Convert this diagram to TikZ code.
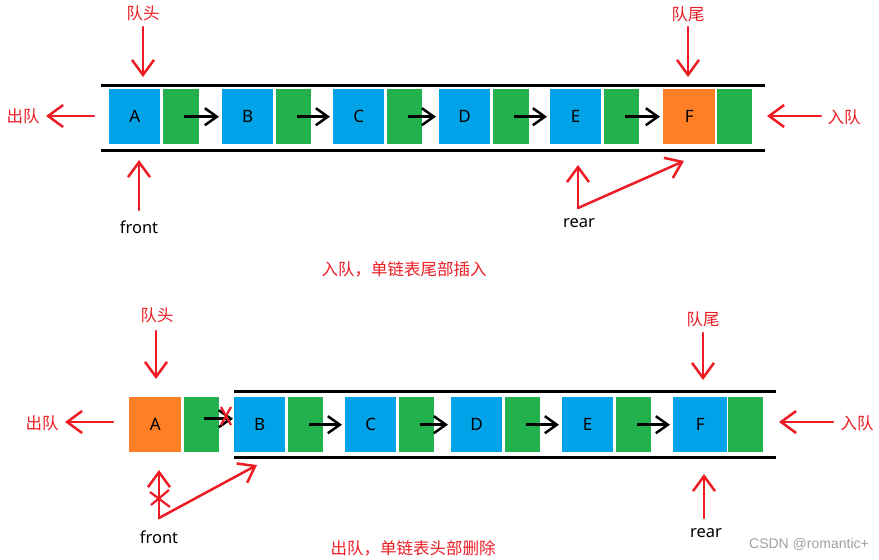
\documentclass[tikz,border=0pt]{standalone}
\usepackage{fontspec}
\setmainfont{Noto Sans}
\newfontfamily\cjk{Noto Sans CJK SC}
\newfontfamily\wmfont{Liberation Sans}
\usetikzlibrary{arrows.meta}
\definecolor{qblue}{HTML}{00A2E8}
\definecolor{qgreen}{HTML}{22B14C}
\definecolor{qorange}{HTML}{FF7F27}
\definecolor{qred}{HTML}{ED1C24}
\definecolor{qgray}{HTML}{A0A0A0}
\begin{document}
\begin{tikzpicture}[x=1pt,y=-1pt,
  cell/.style={inner sep=0pt, anchor=north west, minimum height=55pt, font=\fontsize{17pt}{19pt}\selectfont},
  databox/.style={cell, fill=qblue, minimum width=51pt},
  nextbox/.style={cell, fill=qgreen, minimum width=35pt},
  hl/.style={fill=qorange},
  rail/.style={line width=3pt},
  ptr/.style={line width=2.5pt, -{Straight Barb[length=12pt,width=17pt]}},
  redarr/.style={draw=qred, line width=2.5pt, line cap=round, -{Straight Barb[length=15pt,width=22pt]}},
  strike/.style={draw=qred, line width=2.2pt},
  rlabel/.style={text=qred, font=\cjk\fontsize{16.5pt}{18pt}\selectfont, inner sep=1pt},
  blabel/.style={font=\fontsize{16.5pt}{18pt}\selectfont, inner sep=1pt},
]
\useasboundingbox (0,0) rectangle (879,560);

% ================= top: enqueue =================
\draw[rail] (101,85) -- (765,85);
\draw[rail] (101,150) -- (765,150);

\node[databox] (A1) at (109,89) {A};
\node[nextbox, minimum width=36pt] (A1g) at (163,89) {};
\node[databox] (B1) at (222,89) {B};
\node[nextbox] (B1g) at (276,89) {};
\node[databox] (C1) at (333,89) {C};
\node[nextbox] (C1g) at (387,89) {};
\node[databox] (D1) at (439,89) {D};
\node[nextbox, minimum width=36pt] (D1g) at (493,89) {};
\node[databox] (E1) at (550,89) {E};
\node[nextbox] (E1g) at (604,89) {};
\node[databox, hl, minimum width=52pt] (F1) at (663,89) {F};
\node[nextbox] (F1g) at (717,89) {};

\draw[ptr] ([xshift=3pt]A1g.center) -- ([xshift=-3pt]B1.west);
\draw[ptr] ([xshift=3pt]B1g.center) -- ([xshift=-3pt]C1.west);
\draw[ptr] ([xshift=3pt]C1g.center) -- ([xshift=-3pt]D1.west);
\draw[ptr] ([xshift=3pt]D1g.center) -- ([xshift=-3pt]E1.west);
\draw[ptr] ([xshift=3pt]E1g.center) -- ([xshift=-3pt]F1.west);

\node[rlabel] (head1) at (143,13) {队头};
\coordinate (head1s) at (143,27);
\coordinate (head1e) at (143,77);
\draw[redarr] (head1s) -- (head1e);

\node[rlabel] (tail1) at (688,14) {队尾};
\coordinate (tail1s) at (688,27);
\coordinate (tail1e) at (688,77);
\draw[redarr] (tail1s) -- (tail1e);

\node[rlabel] (deq1) at (23,116) {出队};
\coordinate (deq1s) at (94,116);
\coordinate (deq1e) at (46,116);
\draw[redarr] (deq1s) -- (deq1e);

\node[rlabel] (enq1) at (844,117) {入队};
\coordinate (enq1s) at (821,116);
\coordinate (enq1e) at (767,116);
\draw[redarr] (enq1s) -- (enq1e);

\node[blabel] (front1) at (139,227) {front};
\coordinate (front1s) at (139,210);
\coordinate (front1e) at (139,160);
\draw[redarr] (front1s) -- (front1e);

\node[blabel] (rear1) at (579,223) {rear};
\coordinate (rear1s) at (578,208);
\coordinate (rear1e) at (578,165);
\coordinate (rear1f) at (684,161);
\draw[redarr] (rear1s) -- (rear1e);
\draw[redarr] (rear1s) -- (rear1f);

\node[rlabel] (cap1) at (404,269) {入队，单链表尾部插入};

% ================= bottom: dequeue =================
\draw[rail] (234,391) -- (776,391);
\draw[rail] (234,457) -- (776,457);

\node[databox, hl, minimum width=52pt] (A2) at (129,397) {A};
\node[nextbox] (A2g) at (184,397) {};
\node[databox] (B2) at (234,397) {B};
\node[nextbox] (B2g) at (288,397) {};
\node[databox] (C2) at (345,397) {C};
\node[nextbox] (C2g) at (399,397) {};
\node[databox] (D2) at (451,397) {D};
\node[nextbox] (D2g) at (505,397) {};
\node[databox] (E2) at (562,397) {E};
\node[nextbox] (E2g) at (616,397) {};
\node[databox, minimum width=54pt] (F2) at (673,397) {F};
\node[nextbox] (F2g) at (728,397) {};

\draw[ptr] ([xshift=2.5pt,yshift=6pt]A2g.center) -- ([xshift=-1pt,yshift=6pt]B2.west);
\draw[ptr] ([xshift=3.5pt]B2g.center) -- ([xshift=-3pt]C2.west);
\draw[ptr] ([xshift=3.5pt]C2g.center) -- ([xshift=-3pt]D2.west);
\draw[ptr] ([xshift=3.5pt]D2g.center) -- ([xshift=-3pt]E2.west);
\draw[ptr] ([xshift=3.5pt]E2g.center) -- ([xshift=-3pt]F2.west);
% cut link
\draw[strike] (221,407) -- (231,425);
\draw[strike] (231,407) -- (221,425);

\node[rlabel] (head2) at (157,315) {队头};
\coordinate (head2s) at (156,331);
\coordinate (head2e) at (156,379);
\draw[redarr] (head2s) -- (head2e);

\node[rlabel] (tail2) at (703,319) {队尾};
\coordinate (tail2s) at (703,333);
\coordinate (tail2e) at (703,380);
\draw[redarr] (tail2s) -- (tail2e);

\node[rlabel] (deq2) at (42,423) {出队};
\coordinate (deq2s) at (113,422);
\coordinate (deq2e) at (65,422);
\draw[redarr] (deq2s) -- (deq2e);

\node[rlabel] (enq2) at (857,423) {入队};
\coordinate (enq2s) at (833,422);
\coordinate (enq2e) at (779,422);
\draw[redarr] (enq2s) -- (enq2e);

\node[blabel] (front2) at (159,537) {front};
\coordinate (front2s) at (159,518);
\coordinate (front2e) at (159,470);
\coordinate (front2f) at (257,465);
\draw[redarr] (front2s) -- (front2e);
\draw[redarr] (front2s) -- (front2f);
\draw[strike] (150,492) -- (170,507);
\draw[strike] (169,490) -- (151,505);

\node[blabel] (rear2) at (706,533) {rear};
\coordinate (rear2s) at (704,518);
\coordinate (rear2e) at (704,474);
\draw[redarr] (rear2s) -- (rear2e);

\node[rlabel] (cap2) at (413,548) {出队，单链表头部删除};

\node[text=qgray, font=\wmfont\fontsize{14pt}{16pt}\selectfont, inner sep=0pt] (wm) at (809,544) {CSDN @romantic+};
\end{tikzpicture}
\end{document}
